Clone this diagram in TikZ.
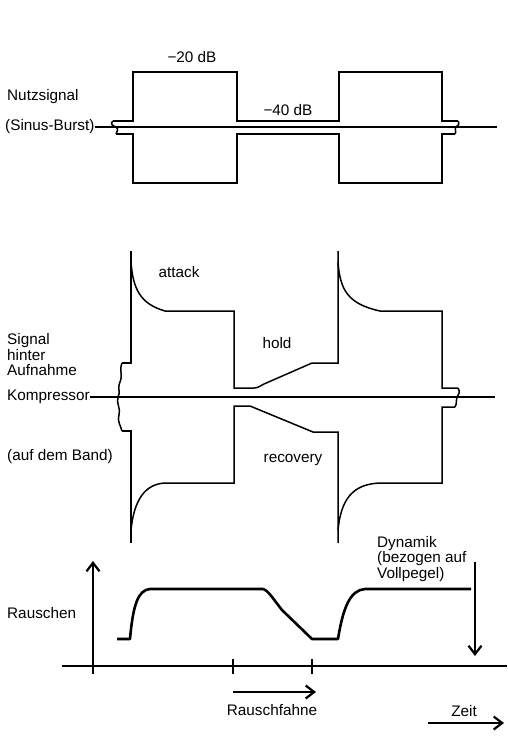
\documentclass[tikz,border=0pt]{standalone}
\usepackage{fontspec}
\setmainfont{Liberation Sans}
\usetikzlibrary{arrows.meta}
\tikzset{
  sig/.style={line width=1.5pt, line join=miter},
  axisline/.style={line width=2pt},
  noise/.style={line width=2.6pt, line join=round},
  lbl/.style={inner sep=0pt, font=\fontsize{15.3}{15.5}\selectfont},
  lbll/.style={lbl, anchor=west, align=left},
  arr/.style={-{Straight Barb[length=8.5pt,width=13pt,line width=2.2pt]}}
}
\begin{document}
\begin{tikzpicture}[x=1pt,y=-1pt]
\useasboundingbox (0,0) rectangle (508,740);
% ---------- top: Nutzsignal ----------
\node[lbll] (nutz) at (7,97) {Nutzsignal};
\node[lbll] (sinus) at (5,127) {(Sinus-Burst)};
\node[lbl] (m20) at (192,57) {−20 dB};
\node[lbl] (m40) at (288,110) {−40 dB};
\coordinate (c1end) at (497,127);
\draw[sig] (sinus.east) -- (c1end);
\draw[sig] (116,134) -- (133,134) -- (133,183) -- (237,183) -- (237,134) -- (339,134) -- (339,183) -- (442,183) -- (442,134) -- (455,134);
\draw[sig] (113,121) -- (133,121) -- (133,72) -- (237,72) -- (237,121) -- (339,121) -- (339,72) -- (442,72) -- (442,121) -- (458,121);
\draw[sig] (113,121) .. controls (110,123) and (112,126) .. (116,127) .. controls (119,129) and (117,132) .. (116,134);
\draw[sig] (458,121) .. controls (460,124) and (458,126) .. (456,127) .. controls (454,129) and (457,132) .. (455,134);
% ---------- middle: compressor ----------
\node[lbll] (sig) at (7,355) {Signal\\hinter\\Aufnahme};
\node[lbll] (komp) at (7,397) {Kompressor};
\node[lbll] (band) at (7,457) {(auf dem Band)};
\node[lbl] (attack) at (179,272) {attack};
\node[lbl] (hold) at (277,343) {hold};
\node[lbl] (recov) at (293,460) {recovery};
\coordinate (c2end) at (495,397);
\draw[sig] (komp.east) -- (c2end);
% upper half
\draw[sig] (122,363) -- (131,363) -- (131,251);
\draw[sig] (131,262) .. controls (133,290) and (141,304) .. (165,311) -- (234,311) -- (234,388) -- (254,388)
  .. controls (258,388) and (260,386) .. (264,384) -- (312,363) -- (338,363) -- (338,251);
\draw[sig] (338,262) .. controls (340,290) and (348,304) .. (380,311) -- (442,311) -- (442,388) -- (458,388);
% lower half
\draw[sig] (122,431) -- (131,431) -- (131,543);
\draw[sig] (131,530) .. controls (134,500) and (145,484) .. (165,483) -- (234,483) -- (234,406) -- (250,406)
  -- (313,432) -- (338,432) -- (338,543);
\draw[sig] (338,530) .. controls (341,500) and (352,484) .. (380,483) -- (442,483) -- (442,407) -- (455,407);
% wiggles
\draw[sig] (122,363) .. controls (119,370) and (123,375) .. (120,382) .. controls (117,389) and (121,392) .. (118,397)
  .. controls (116,404) and (121,408) .. (119,415) .. controls (117,422) and (121,426) .. (122,431);
\draw[sig] (458,388) .. controls (461,392) and (458,395) .. (457,397) .. controls (456,400) and (457,404) .. (455,407);
% ---------- bottom: Rauschen ----------
\node[lbll] (rausch) at (7,613) {Rauschen};
\node[lbll] (dyn) at (377,559) {Dynamik\\(bezogen auf\\Vollpegel)};
\node[lbl] (fahne) at (272,710) {Rauschfahne};
\node[lbl] (zeit) at (464,711) {Zeit};
\coordinate (xa0) at (62,666);
\coordinate (xa1) at (507,666);
\coordinate (ya0) at (93,674);
\coordinate (ya1) at (93,561);
\draw[axisline] (xa0) -- (xa1);
\draw[axisline, arr] (ya0) -- (ya1);
\coordinate (t1a) at (233,659); \coordinate (t1b) at (233,674);
\coordinate (t2a) at (312,659); \coordinate (t2b) at (312,674);
\draw[axisline] (t1a) -- (t1b);
\draw[axisline] (t2a) -- (t2b);
\coordinate (dyn0) at (475,562);
\coordinate (dyn1) at (475,656);
\draw[line width=1.5pt, arr] (dyn0) -- (dyn1);
\coordinate (rf0) at (233,692);
\coordinate (rf1) at (316,692);
\draw[line width=1.8pt, arr] (rf0) -- (rf1);
\coordinate (z0) at (428,723);
\coordinate (z1) at (504,723);
\draw[line width=1.8pt, arr] (z0) -- (z1);
\draw[noise] (117,639) -- (130,639) .. controls (133,605) and (138,590) .. (150,589) -- (263,589)
  .. controls (268,590) and (274,600) .. (282,610) -- (312,639) -- (338,639)
  .. controls (343,608) and (350,590) .. (365,589) -- (471,589);
\end{tikzpicture}
\end{document}
